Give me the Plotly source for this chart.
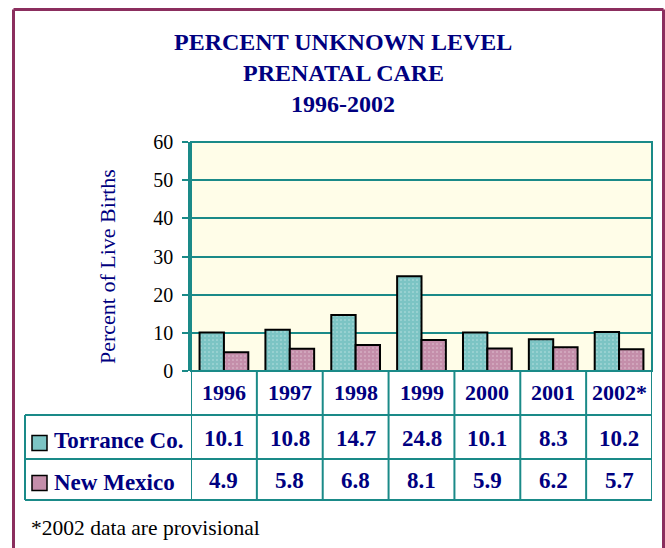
import plotly.graph_objects as go

years = ["1996", "1997", "1998", "1999", "2000", "2001", "2002*"]
torrance = [10.1, 10.8, 14.7, 24.8, 10.1, 8.3, 10.2]
new_mexico = [4.9, 5.8, 6.8, 8.1, 5.9, 6.2, 5.7]
series_names = ["Torrance Co.", "New Mexico"]
title_lines = ["PERCENT UNKNOWN LEVEL", "PRENATAL CARE", "1996-2002"]
y_title = "Percent of Live Births"
footnote = "*2002 data are provisional"

W, H = 665, 548
def px(x):
    return x / W
def py(y):
    return 1 - y / H

TEAL = "#1A8A88"
NAVY = "#000080"
FRAME = "#8B2E5E"
C1 = "#7CC4C4"
C2 = "#C48EAA"
SERIF = "Liberation Serif, Times New Roman, serif"

fig = go.Figure()
fig.add_trace(go.Bar(x=years, y=torrance, name=series_names[0],
                     marker=dict(color=C1, line=dict(color="black", width=2),
                                 pattern=dict(shape=".", fgcolor="white", bgcolor=C1,
                                              size=4, solidity=0.12))))
fig.add_trace(go.Bar(x=years, y=new_mexico, name=series_names[1],
                     marker=dict(color=C2, line=dict(color="black", width=2),
                                 pattern=dict(shape=".", fgcolor="white", bgcolor=C2,
                                              size=4, solidity=0.12))))

fig.update_layout(
    width=W, height=H, margin=dict(l=0, r=0, t=0, b=0, pad=0, autoexpand=False),
    autosize=False,
    paper_bgcolor="white", plot_bgcolor="#FFFDE8",
    showlegend=False, barmode="group", bargap=0.26, bargroupgap=0,
    xaxis=dict(domain=[px(191), px(652)], range=[-0.5, 6.5], showticklabels=False,
               showgrid=False, zeroline=False, ticks="", fixedrange=True, automargin=False),
    yaxis=dict(domain=[py(371), py(142)], range=[0, 60], dtick=10, automargin=False,
               showgrid=True, gridcolor=TEAL, gridwidth=1.5, zeroline=False,
               showline=True, linecolor=TEAL, linewidth=2.5, ticks="outside",
               ticklen=6, tickcolor=TEAL, tickwidth=2, ticklabelstandoff=5,
               tickfont=dict(family=SERIF, size=20, color="black")),
)

shapes = []
# plot border
shapes.append(dict(type="rect", xref="x domain", yref="y domain", x0=0, x1=1, y0=0, y1=1,
                   line=dict(color=TEAL, width=2)))
# outer frame
for (x0, y0, x1, y1) in [(13.5, 9.5, 663.5, 9.5), (13.5, 9.5, 13.5, 548), (663.5, 9.5, 663.5, 548)]:
    shapes.append(dict(type="line", xref="paper", yref="paper", x0=px(x0), y0=py(y0),
                       x1=px(x1), y1=py(y1), line=dict(color=FRAME, width=3)))
# table vertical lines at category boundaries
for i in range(len(years) + 1):
    shapes.append(dict(type="line", xref="x", yref="paper", x0=i - 0.5, x1=i - 0.5,
                       y0=py(371), y1=py(500), line=dict(color=TEAL, width=2)))
# table left edge and horizontal rules
shapes.append(dict(type="line", xref="paper", yref="paper", x0=px(25), x1=px(25),
                   y0=py(415), y1=py(500), line=dict(color=TEAL, width=2)))
for yy in [415, 459, 500]:
    shapes.append(dict(type="line", xref="paper", yref="paper", x0=px(25), x1=px(652),
                       y0=py(yy), y1=py(yy), line=dict(color=TEAL, width=2)))
# legend squares
for yc, col in [(443, C1), (483, C2)]:
    shapes.append(dict(type="rect", xref="paper", yref="paper", x0=px(32), x1=px(47),
                       y0=py(yc + 7.5), y1=py(yc - 7.5), fillcolor=col,
                       line=dict(color="black", width=1.5)))

ann = []
for i, t in enumerate(title_lines):
    ann.append(dict(text=t, xref="paper", yref="paper", x=px(343), y=py(42 + 31 * i),
                    showarrow=False, xanchor="center", yanchor="middle",
                    font=dict(family=SERIF, size=24, color=NAVY, weight="bold")))
ann.append(dict(text=y_title, xref="paper", yref="paper", x=px(107), y=py(267),
                textangle=-90, showarrow=False, xanchor="center", yanchor="middle",
                font=dict(family=SERIF, size=22, color=NAVY)))
for i, yr in enumerate(years):
    ann.append(dict(text=yr, xref="x", yref="paper", x=i, y=py(392), showarrow=False,
                    xanchor="center", yanchor="middle",
                    font=dict(family=SERIF, size=22, color=NAVY, weight="bold")))
    for vals, yc in [(torrance, 438), (new_mexico, 480)]:
        ann.append(dict(text=f"{vals[i]:.1f}", xref="x", yref="paper", x=i, y=py(yc),
                        showarrow=False, xanchor="center", yanchor="middle",
                        font=dict(family=SERIF, size=23, color=NAVY, weight="bold")))
for name, yc in zip(series_names, [440, 482]):
    ann.append(dict(text=name, xref="paper", yref="paper", x=px(52), y=py(yc),
                    showarrow=False, xanchor="left", yanchor="middle",
                    font=dict(family=SERIF, size=23, color=NAVY, weight="bold")))
ann.append(dict(text=footnote, xref="paper", yref="paper", x=px(29), y=py(528),
                showarrow=False, xanchor="left", yanchor="middle",
                font=dict(family=SERIF, size=21.5, color="black")))

fig.update_layout(shapes=shapes, annotations=ann)
post = (
    "var d=document.getElementById('{plot_id}');"
    "d.style.position='fixed';d.style.top='0px';d.style.left='0px';"
    "document.documentElement.style.margin='0';document.body.style.margin='0';"
    "document.documentElement.style.overflow='hidden';document.body.style.overflow='hidden';"
)
fig.write_html("out.html", config={"displayModeBar": False}, post_script=post)
